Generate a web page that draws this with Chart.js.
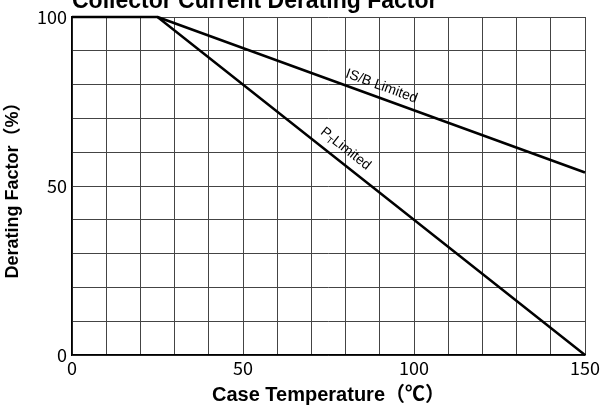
<!DOCTYPE html>
<html>
<head>
<meta charset="utf-8">
<script src="https://cdn.jsdelivr.net/npm/chart.js@4.4.1/dist/chart.umd.min.js"></script>
<style>
  html, body { margin: 0; padding: 0; background: #fff; }
  #wrap { width: 604px; height: 405px; }
</style>
</head>
<body>
<div id="wrap"><canvas id="grafikas"></canvas></div>
<script>
const temperaturaPT = [0, 25, 150];
const faktoriusPT = [100, 100, 0];
const temperaturaIS = [25, 150];
const faktoriusIS = [100, 54];
const xTickLabels = [0, 50, 100, 150];
const yTickLabels = [0, 50, 100];

// uzrasai prie liniju (duomenu vienetais)
const uzrasai = [
  { text: 'IS/B Limited', sub: '', x: 90.5, y: 79.5, from: [25, 100], to: [150, 54] },
  { text: 'P', sub: 'T', rest: 'Limited', x: 80, y: 61, from: [25, 100], to: [150, 0] }
];

const pavadinimas = 'Collector Current Derating Factor';
const labelFont = '14px "Liberation Sans", Arial, sans-serif';
const subFont = '9px "Liberation Sans", Arial, sans-serif';

const linijuUzrasai = {
  id: 'linijuUzrasai',
  afterDraw(chart) {
    const ctx = chart.ctx;
    const xs = chart.scales.x;
    const ys = chart.scales.y;
    ctx.save();
    ctx.fillStyle = '#000';
    ctx.font = 'bold 23px "Liberation Sans", Arial, sans-serif';
    ctx.textAlign = 'left';
    ctx.textBaseline = 'alphabetic';
    ctx.fillText(pavadinimas, 72, 8);

    for (const u of uzrasai) {
      const x1 = xs.getPixelForValue(u.from[0]);
      const y1 = ys.getPixelForValue(u.from[1]);
      const x2 = xs.getPixelForValue(u.to[0]);
      const y2 = ys.getPixelForValue(u.to[1]);
      const kampas = Math.atan2(y2 - y1, x2 - x1);
      ctx.save();
      ctx.translate(xs.getPixelForValue(u.x), ys.getPixelForValue(u.y));
      ctx.rotate(kampas);
      ctx.textBaseline = 'middle';
      if (u.sub) {
        ctx.font = labelFont;
        const w1 = ctx.measureText(u.text).width;
        ctx.font = subFont;
        const w2 = ctx.measureText(u.sub).width;
        ctx.font = labelFont;
        const w3 = ctx.measureText(u.rest).width;
        let start = -(w1 + w2 + w3) / 2;
        ctx.textAlign = 'left';
        ctx.fillText(u.text, start, 0);
        ctx.font = subFont;
        ctx.fillText(u.sub, start + w1, 4);
        ctx.font = labelFont;
        ctx.fillText(u.rest, start + w1 + w2, 0);
      } else {
        ctx.font = labelFont;
        ctx.textAlign = 'center';
        ctx.fillText(u.text, 0, 0);
      }
      ctx.restore();
    }
    ctx.restore();
  }
};

const tickFont = { family: '"Noto Sans CJK JP", "DejaVu Sans", sans-serif', size: 18 };
const titleFont = { family: '"Liberation Sans", "Noto Sans CJK JP", sans-serif', size: 18, weight: 'bold' };
const xTitleFont = { family: '"Liberation Sans", "Noto Sans CJK JP", sans-serif', size: 20, weight: 'bold' };

new Chart(document.getElementById('grafikas'), {
  type: 'line',
  data: {
    datasets: [
      {
        label: 'PT Limited',
        data: temperaturaPT.map((t, i) => ({ x: t, y: faktoriusPT[i] })),
        borderColor: '#000',
        borderWidth: 2.5,
        pointRadius: 0,
        tension: 0,
        clip: false,
        fill: false
      },
      {
        label: 'IS/B Limited',
        data: temperaturaIS.map((t, i) => ({ x: t, y: faktoriusIS[i] })),
        borderColor: '#000',
        borderWidth: 2.5,
        pointRadius: 0,
        tension: 0,
        clip: false,
        fill: false
      }
    ]
  },
  options: {
    responsive: true,
    maintainAspectRatio: false,
    animation: false,
    layout: { padding: { left: 0, top: 17, right: 19, bottom: 0 } },
    plugins: {
      legend: { display: false },
      tooltip: { enabled: false }
    },
    scales: {
      x: {
        type: 'linear',
        min: 0,
        max: 150,
        afterFit(scale) { scale.height = 50; },
        ticks: {
          stepSize: 10,
          autoSkip: false,
          maxRotation: 0,
          padding: 2,
          color: '#000',
          font: tickFont,
          callback: v => xTickLabels.includes(v) ? String(v) : ''
        },
        grid: { color: '#444', lineWidth: 1, drawTicks: false },
        border: { color: '#000', width: 1.5 },
        title: { display: true, text: 'Case Temperature（℃）', color: '#000', font: xTitleFont, padding: { top: 0, bottom: -2 } }
      },
      y: {
        min: 0,
        max: 100,
        afterFit(scale) { scale.width = 72; },
        ticks: {
          stepSize: 10,
          autoSkip: false,
          padding: 5,
          color: '#000',
          font: tickFont,
          callback: v => yTickLabels.includes(v) ? String(v) : ''
        },
        grid: { color: '#444', lineWidth: 1, drawTicks: false },
        border: { color: '#000', width: 1.5 },
        title: { display: true, text: 'Derating Factor（%）', color: '#000', font: titleFont, padding: { top: 2, bottom: 0 } }
      }
    }
  },
  plugins: [linijuUzrasai]
});
</script>
</body>
</html>
